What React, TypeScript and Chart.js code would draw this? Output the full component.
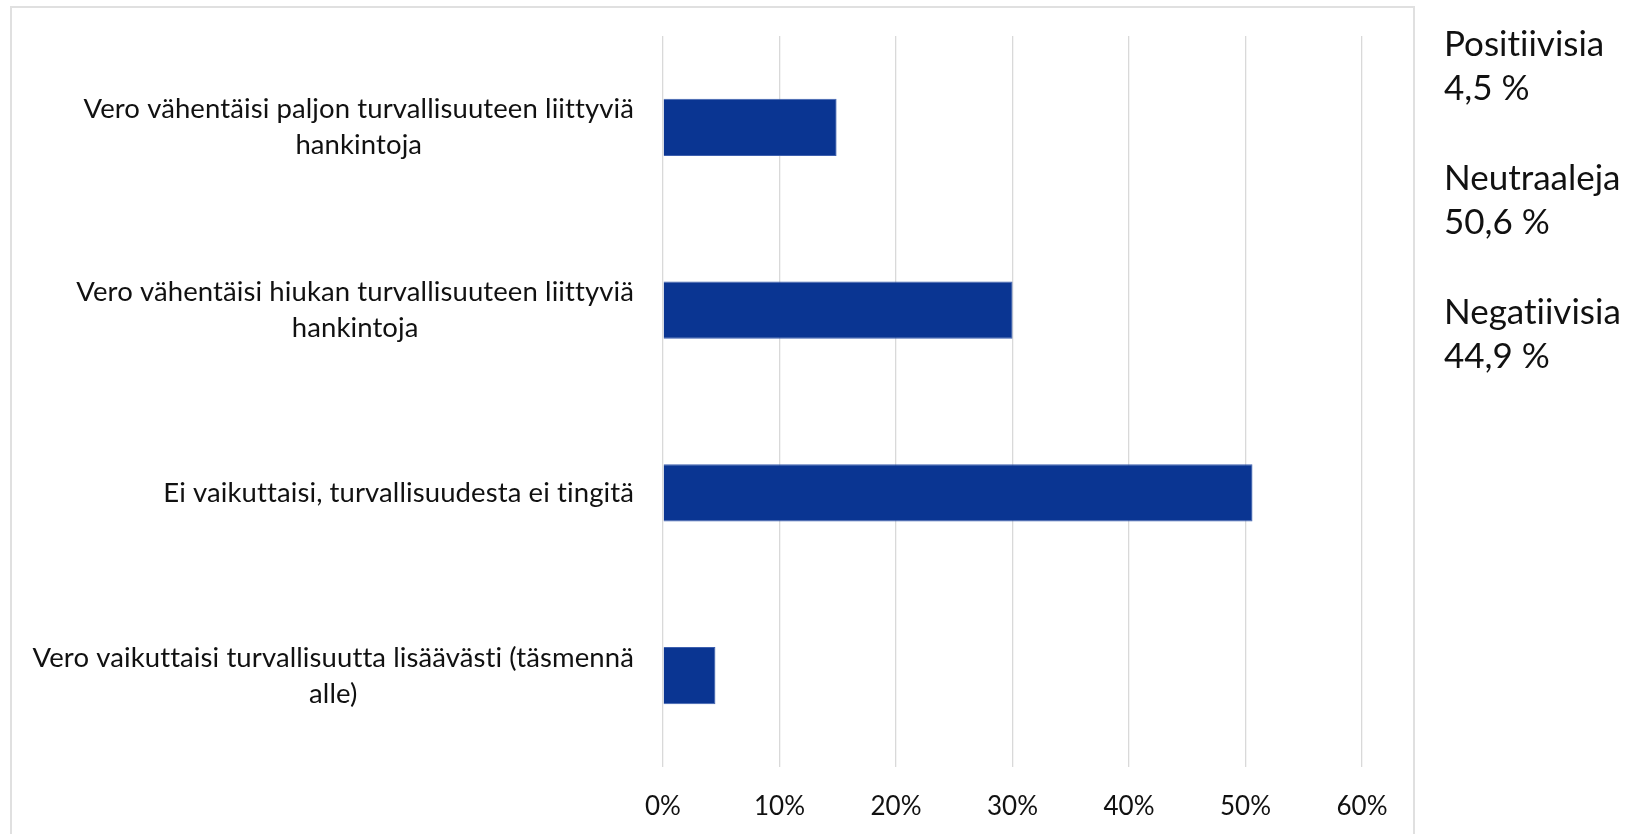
import React, { useEffect, useRef } from "react";
import { Chart, registerables } from "chart.js";

Chart.register(...registerables);

// Category labels (each entry: lines of the label, top to bottom)
const categories: string[][] = [
  ["Vero vähentäisi paljon turvallisuuteen liittyviä", "hankintoja"],
  ["Vero vähentäisi hiukan turvallisuuteen liittyviä", "hankintoja"],
  ["Ei vaikuttaisi, turvallisuudesta ei tingitä"],
  ["Vero vaikuttaisi turvallisuutta lisäävästi (täsmennä", "alle)"],
];

// Share of responses (%)
const shares: number[] = [14.9, 30.0, 50.6, 4.5];

// x-axis range / ticks (%)
const xMin = 0;
const xMax = 60;
const xStep = 10;

// Summary text on the right
const summaryLabels: string[] = ["Positiivisia", "Neutraaleja", "Negatiivisia"];
const summaryValues: string[] = ["4,5 %", "50,6 %", "44,9 %"];

const FONT = "Lato, 'Open Sans', sans-serif";
const LABEL_SIZE = 27.5;
const LABEL_LINE = 36;

const yLabelPlugin = {
  id: "yLabelsCentered",
  afterDraw(chart: any) {
    const ctx = chart.ctx;
    const yScale = chart.scales.y;
    ctx.save();
    ctx.font = `${LABEL_SIZE}px ${FONT}`;
    try {
      (ctx as any).letterSpacing = "0.1px";
    } catch (e) {}
    ctx.fillStyle = "#111111";
    ctx.textBaseline = "middle";
    ctx.textAlign = "center";
    const rightX = chart.chartArea.left - 29;
    categories.forEach((lines, i) => {
      const cy = yScale.getPixelForValue(i);
      const w = Math.max(...lines.map((l) => ctx.measureText(l).width));
      const cx = rightX - w / 2;
      lines.forEach((l, j) => {
        ctx.fillText(l, cx, cy + (j - (lines.length - 1) / 2) * LABEL_LINE);
      });
    });
    ctx.restore();
  },
};

function BarChart() {
  const ref = useRef<HTMLCanvasElement | null>(null);
  useEffect(() => {
    if (!ref.current) return;
    const chart = new Chart(ref.current, {
      type: "bar",
      data: {
        labels: categories.map((l) => l.join(" ")),
        datasets: [
          {
            data: shares,
            backgroundColor: "#0a3592",
            borderColor: "#3d5fae",
            borderWidth: 0.8,
            categoryPercentage: 1,
            barPercentage: 0.312,
          },
        ],
      },
      options: {
        indexAxis: "y",
        animation: false,
        responsive: false,
        maintainAspectRatio: false,
        layout: { padding: { left: 663, right: 276, top: 36, bottom: 0 } },
        plugins: {
          legend: { display: false },
          tooltip: { enabled: false },
        },
        scales: {
          y: {
            type: "category",
            display: false,
          },
          x: {
            type: "linear",
            min: xMin,
            max: xMax,
            border: { display: false },
            grid: { color: "#d9d9d9", lineWidth: 1.3, drawTicks: false },
            afterFit: (scale: any) => {
              scale.height = 67;
            },
            ticks: {
              stepSize: xStep,
              padding: 24,
              color: "#111111",
              font: { family: FONT, size: 26 },
              callback: (v: any) => `${v}%`,
            },
          },
        },
      },
      plugins: [yLabelPlugin],
    });
    return () => chart.destroy();
  }, []);
  return (
    <canvas
      ref={ref}
      width={1638}
      height={834}
      style={{ position: "absolute", left: 0, top: 0, width: 1638, height: 834 }}
    />
  );
}

export default function App() {
  return (
    <div
      style={{
        position: "fixed",
        left: 0,
        top: 0,
        width: 1638,
        height: 834,
        background: "#ffffff",
        overflow: "hidden",
        fontFamily: FONT,
      }}
    >
      <div
        style={{
          position: "absolute",
          left: 10,
          top: 6,
          width: 1405,
          height: 900,
          border: "2px solid #e0e0e0",
          boxSizing: "border-box",
        }}
      />
      <BarChart />
      <div
        style={{
          position: "absolute",
          left: 1444,
          top: 20,
          color: "#111111",
          fontVariantLigatures: "none",
        }}
      >
        {summaryLabels.map((lab, i) => (
          <div key={lab} style={{ fontSize: 35, lineHeight: "44px", marginBottom: 46 }}>
            <div>{lab}</div>
            <div>{summaryValues[i]}</div>
          </div>
        ))}
      </div>
    </div>
  );
}
